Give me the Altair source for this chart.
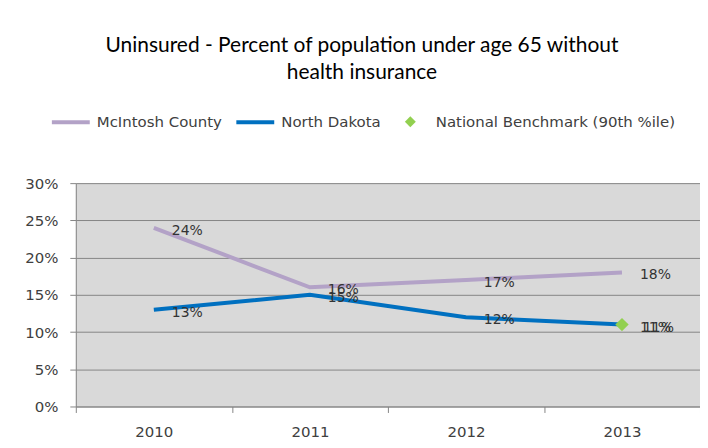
import altair as alt
import pandas as pd

years = ["2010", "2011", "2012", "2013"]
mcintosh = [24, 16, 17, 18]
north_dakota = [13, 15, 12, 11]
benchmark_years = ["2013"]
benchmark = [11]

line_names = ["McIntosh County", "North Dakota"]
line_colors = ["#B3A2C7", "#0070C0"]
bench_name = "National Benchmark (90th %ile)"
bench_color = "#92D050"
y_ticks = [0, 0.05, 0.10, 0.15, 0.20, 0.25, 0.30]

rows = []
for yr, v in zip(years, mcintosh):
    rows.append({"year": yr, "value": v / 100, "series": line_names[0]})
for yr, v in zip(years, north_dakota):
    rows.append({"year": yr, "value": v / 100, "series": line_names[1]})
lines_df = pd.DataFrame(rows)
bench_df = pd.DataFrame({
    "year": benchmark_years,
    "value": [v / 100 for v in benchmark],
    "series": [bench_name] * len(benchmark),
})

FONT = "DejaVu Sans"

color = alt.Color(
    "series:N",
    scale=alt.Scale(domain=line_names, range=line_colors),
    legend=alt.Legend(
        title=None,
        orient="none",
        legendX=-26,
        legendY=-82,
        direction="horizontal",
        columns=2,
        columnPadding=6,
        padding=0,
        symbolType="stroke",
        symbolSize=1444,
        symbolStrokeWidth=4,
        labelFont=FONT,
        labelFontSize=15,
        labelColor="#404040",
        labelOffset=5,
        labelLimit=0,
    ),
)
fill = alt.Fill(
    "series:N",
    scale=alt.Scale(domain=[bench_name], range=[bench_color]),
    legend=alt.Legend(
        title=None,
        orient="none",
        legendX=328,
        legendY=-69,
        direction="horizontal",
        padding=0,
        symbolType="diamond",
        symbolSize=121,
        symbolStrokeWidth=0,
        symbolOpacity=1,
        labelFont=FONT,
        labelFontSize=15,
        labelColor="#404040",
        labelOffset=18,
        labelLimit=0,
    ),
)

x = alt.X(
    "year:N",
    scale=alt.Scale(domain=years, paddingInner=0, paddingOuter=0),
    axis=alt.Axis(
        title=None,
        labelAngle=0,
        tickBand="extent",
        grid=False,
        domainColor="#868686",
        tickColor="#868686",
        tickSize=6,
        labelPadding=12,
        labelFont=FONT,
        labelFontSize=15,
        labelColor="#404040",
    ),
)
y = alt.Y(
    "value:Q",
    scale=alt.Scale(domain=[0, 0.3]),
    axis=alt.Axis(
        title=None,
        format=".0%",
        values=y_ticks,
        grid=True,
        gridColor="#868686",
        gridWidth=1,
        domainColor="#868686",
        tickColor="#868686",
        tickSize=6,
        labelPadding=12,
        labelFont=FONT,
        labelFontSize=15,
        labelColor="#404040",
    ),
)

lines = alt.Chart(lines_df).mark_line(strokeWidth=4).encode(x=x, y=y, color=color)
bench_pts = alt.Chart(bench_df).mark_point(
    shape="diamond", filled=True, size=180, opacity=1, strokeWidth=0
).encode(x=x, y=y, fill=fill)

line_labels = alt.Chart(lines_df).mark_text(
    align="left", baseline="middle", dx=18, dy=3, font=FONT, fontSize=14, color="#333333"
).encode(x=x, y=y, text=alt.Text("value:Q", format=".0%"))
bench_labels = alt.Chart(bench_df).mark_text(
    align="left", baseline="middle", dx=21, dy=3, font=FONT, fontSize=14, color="#333333"
).encode(x=x, y=y, text=alt.Text("value:Q", format=".0%"))

chart = alt.layer(lines, bench_pts, line_labels, bench_labels).properties(
    width=626,
    height=224,
    title=alt.TitleParams(
        text=["Uninsured - Percent of population under age 65 without", "health insurance"],
        font="Lato",
        fontSize=21,
        fontWeight="normal",
        color="#000000",
        lineHeight=28,
        anchor="middle",
        dx=-26,
        offset=18,
    ),
    autosize=alt.AutoSizeParams(type="none"),
    padding={"left": 68, "top": 175, "right": 0, "bottom": 40},
).configure(
    background="white"
).configure_view(
    fill="#D9D9D9", stroke=None
)

chart.save("out.html", embed_options={"renderer": "svg", "actions": False})
